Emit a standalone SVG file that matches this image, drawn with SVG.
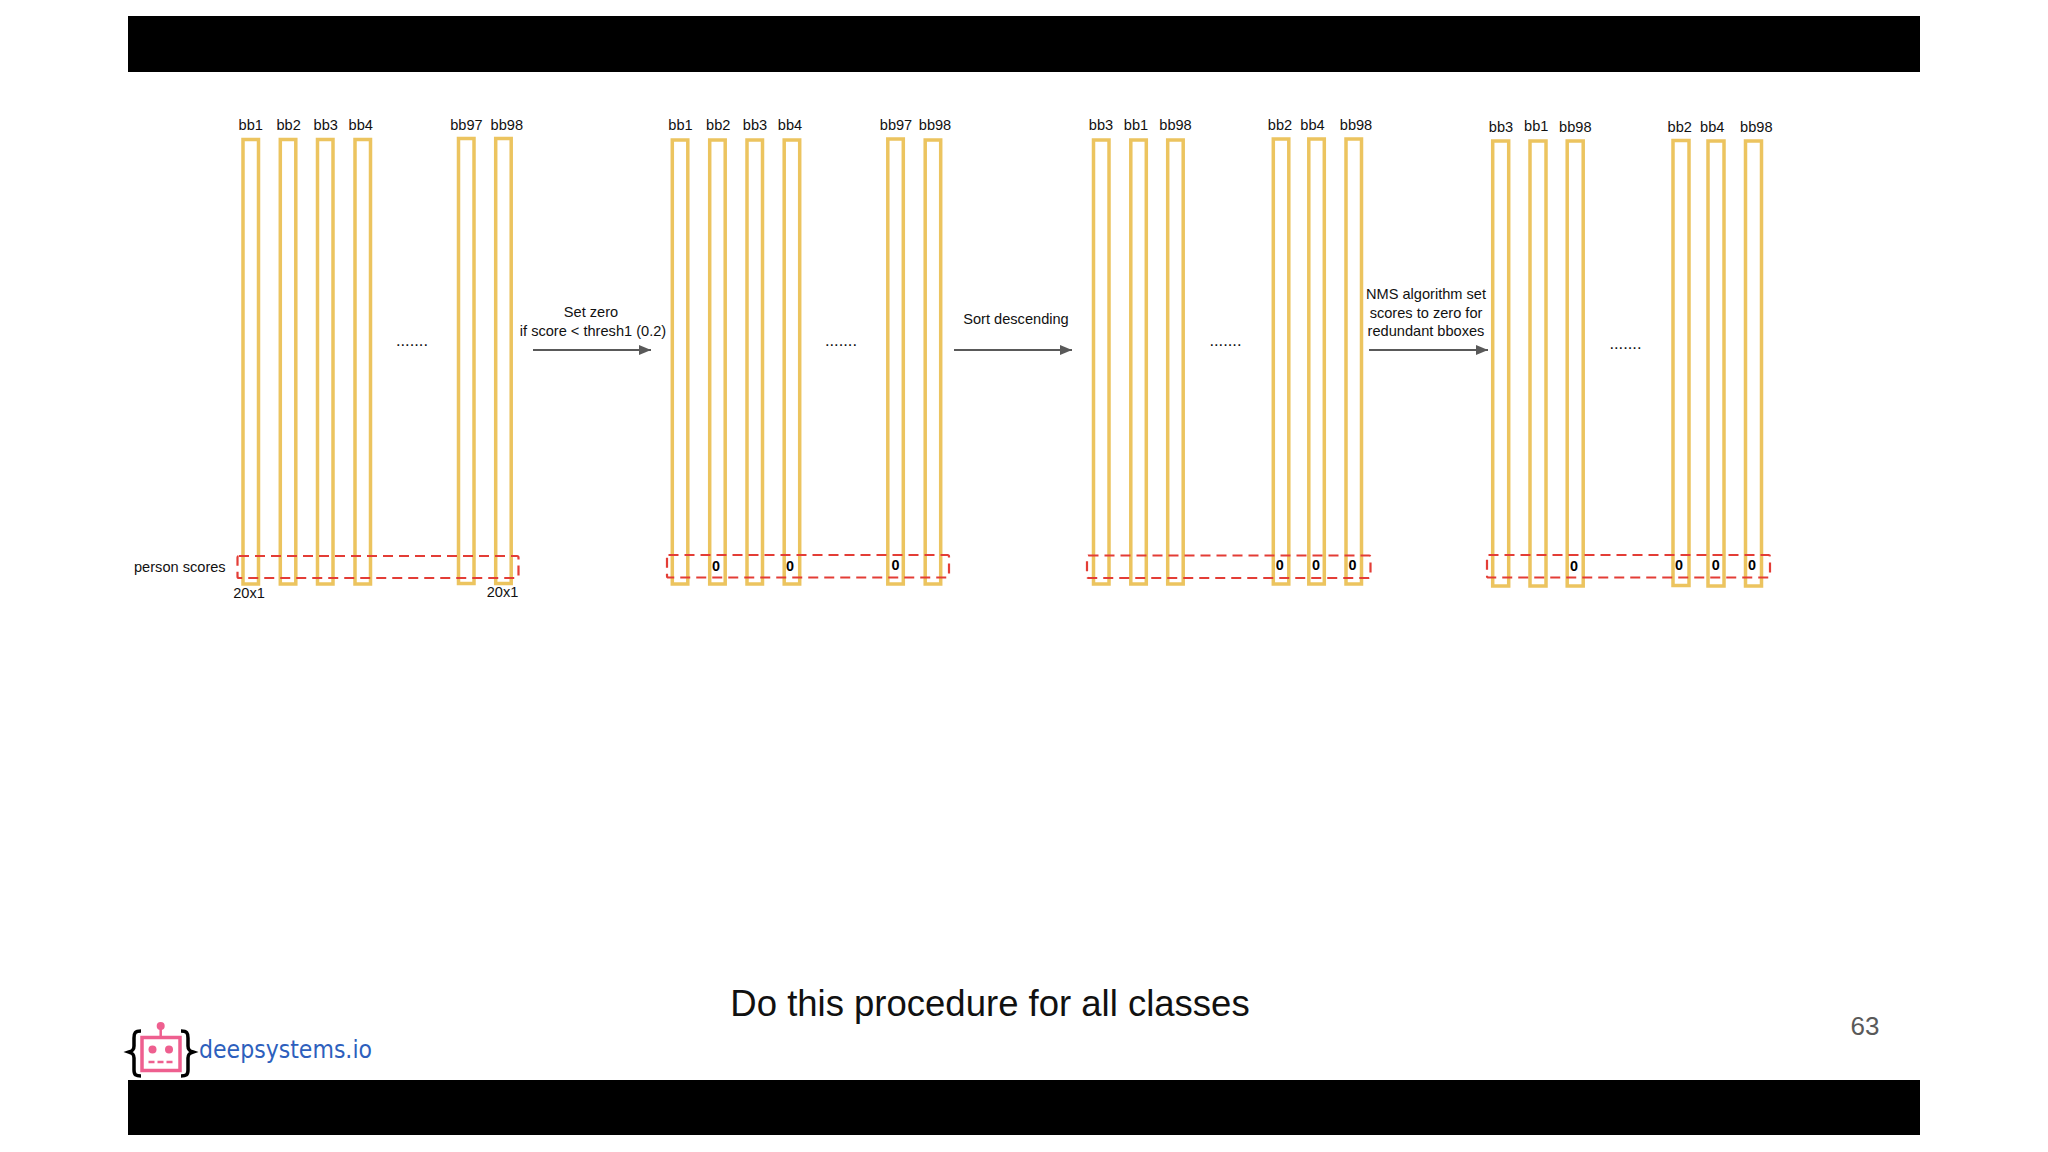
<svg xmlns="http://www.w3.org/2000/svg" width="2048" height="1152" viewBox="0 0 2048 1152">
<defs>
<style>
text{font-family:"Liberation Sans",Arial,sans-serif;fill:#111}
.bar{fill:none;stroke:#ecc45f;stroke-width:3.5}
.lab{font-size:14.6px;text-anchor:middle}
.note{font-size:14.6px;text-anchor:middle}
.zero{font-size:14.4px;font-weight:bold;text-anchor:middle;fill:#000}
.dots{font-size:16.5px;text-anchor:middle}
.red{fill:none;stroke:#e33d36;stroke-width:2.2;stroke-dasharray:10 6}
.arrow{stroke:#595959;stroke-width:1.8;fill:none;marker-end:url(#ah)}
</style>
<marker id="ah" markerUnits="userSpaceOnUse" markerWidth="12" markerHeight="10" refX="12" refY="5" orient="auto"><path d="M0 0L12 5L0 10Z" fill="#595959"/></marker>
</defs>
<rect width="2048" height="1152" fill="#fff"/>
<rect id="top-band" x="128" y="16" width="1792" height="56" fill="#000"/>
<rect id="bottom-band" x="128" y="1080" width="1792" height="55" fill="#000"/>

<g id="panel-1">
<g id="p1-bb1"><rect class="bar" x="243" y="139.5" width="15.5" height="444.5"/><text class="lab" x="250.7" y="130">bb1</text></g>
<g id="p1-bb2"><rect class="bar" x="280.3" y="139.5" width="15.5" height="444.5"/><text class="lab" x="288.6" y="130">bb2</text></g>
<g id="p1-bb3"><rect class="bar" x="317.5" y="139.5" width="15.5" height="444.5"/><text class="lab" x="325.7" y="130">bb3</text></g>
<g id="p1-bb4"><rect class="bar" x="355" y="139.5" width="15.5" height="444.5"/><text class="lab" x="360.7" y="130">bb4</text></g>
<g id="p1-bb97"><rect class="bar" x="458.5" y="138.5" width="15.5" height="445"/><text class="lab" x="466.4" y="130">bb97</text></g>
<g id="p1-bb98"><rect class="bar" x="495.7" y="138.5" width="15.5" height="445"/><text class="lab" x="506.8" y="130">bb98</text></g>
<text class="dots" x="412" y="346">.......</text>
<rect id="p1-scores" class="red" x="237.5" y="556" width="281" height="22" rx="1.5"/>
<text x="134" y="572" font-size="14.6">person scores</text>
<text class="lab" x="249" y="597.5">20x1</text>
<text class="lab" x="502.5" y="596.5">20x1</text>
</g>

<g id="panel-2">
<g id="p2-bb1"><rect class="bar" x="672.3" y="140" width="15.5" height="444"/><text class="lab" x="680.5" y="130">bb1</text></g>
<g id="p2-bb2"><rect class="bar" x="709.7" y="140" width="15.5" height="444"/><text class="lab" x="718.3" y="130">bb2</text><text class="zero" x="716" y="571">0</text></g>
<g id="p2-bb3"><rect class="bar" x="747" y="140" width="15.5" height="444"/><text class="lab" x="755" y="130">bb3</text></g>
<g id="p2-bb4"><rect class="bar" x="784.2" y="140" width="15.5" height="444"/><text class="lab" x="790" y="130">bb4</text><text class="zero" x="790" y="571">0</text></g>
<g id="p2-bb97"><rect class="bar" x="887.8" y="139" width="15.5" height="445"/><text class="lab" x="896" y="130">bb97</text><text class="zero" x="895.5" y="569.5">0</text></g>
<g id="p2-bb98"><rect class="bar" x="925.2" y="140" width="15.5" height="444"/><text class="lab" x="935" y="130">bb98</text></g>
<text class="dots" x="841" y="346">.......</text>
<rect id="p2-scores" class="red" x="667" y="555" width="282" height="22.5" rx="1.5"/>
</g>

<g id="panel-3">
<g id="p3-bb3"><rect class="bar" x="1093.5" y="140" width="15.5" height="444"/><text class="lab" x="1101" y="130">bb3</text></g>
<g id="p3-bb1"><rect class="bar" x="1130.8" y="140" width="15.5" height="444"/><text class="lab" x="1136" y="129.5">bb1</text></g>
<g id="p3-bb98a"><rect class="bar" x="1167.7" y="140" width="15.5" height="444"/><text class="lab" x="1175.5" y="130">bb98</text></g>
<g id="p3-bb2"><rect class="bar" x="1273.3" y="139" width="15.5" height="445"/><text class="lab" x="1280" y="130">bb2</text><text class="zero" x="1279.8" y="570">0</text></g>
<g id="p3-bb4"><rect class="bar" x="1308.8" y="139" width="15.5" height="445"/><text class="lab" x="1312.5" y="130">bb4</text><text class="zero" x="1316" y="570">0</text></g>
<g id="p3-bb98b"><rect class="bar" x="1346" y="139" width="15.5" height="445"/><text class="lab" x="1356" y="130">bb98</text><text class="zero" x="1352.6" y="570">0</text></g>
<text class="dots" x="1225.5" y="346">.......</text>
<rect id="p3-scores" class="red" x="1087" y="555.5" width="283.5" height="22.5" rx="1.5"/>
</g>

<g id="panel-4">
<g id="p4-bb3"><rect class="bar" x="1492.7" y="141" width="16" height="445"/><text class="lab" x="1501" y="132">bb3</text></g>
<g id="p4-bb1"><rect class="bar" x="1530" y="141" width="16" height="445"/><text class="lab" x="1536.3" y="131">bb1</text></g>
<g id="p4-bb98a"><rect class="bar" x="1567.2" y="141" width="16" height="445"/><text class="lab" x="1575.3" y="132">bb98</text><text class="zero" x="1574" y="571">0</text></g>
<g id="p4-bb2"><rect class="bar" x="1673" y="140.5" width="16" height="445"/><text class="lab" x="1679.7" y="132">bb2</text><text class="zero" x="1679" y="570">0</text></g>
<g id="p4-bb4"><rect class="bar" x="1708" y="141" width="16" height="445"/><text class="lab" x="1712.3" y="132">bb4</text><text class="zero" x="1715.7" y="570">0</text></g>
<g id="p4-bb98b"><rect class="bar" x="1745.5" y="141" width="16" height="445"/><text class="lab" x="1756.3" y="132">bb98</text><text class="zero" x="1752" y="570">0</text></g>
<text class="dots" x="1625.5" y="349">.......</text>
<rect id="p4-scores" class="red" x="1487" y="555" width="283" height="22.5" rx="1.5"/>
</g>

<g id="connectors">
<line class="arrow" x1="533" y1="350" x2="651" y2="350"/>
<line class="arrow" x1="954" y1="350" x2="1072" y2="350"/>
<line class="arrow" x1="1369" y1="350" x2="1488" y2="350"/>
</g>
<g id="arrow-labels">
<text class="note" x="591" y="317">Set zero</text>
<text class="note" x="593" y="336">if score &lt; thresh1 (0.2)</text>
<text class="note" x="1016" y="324">Sort descending</text>
<text class="note" x="1426" y="299">NMS algorithm set</text>
<text class="note" x="1426" y="318">scores to zero for</text>
<text class="note" x="1426" y="336">redundant bboxes</text>
</g>

<text id="caption" x="990" y="1016" font-size="36.5" text-anchor="middle">Do this procedure for all classes</text>
<text id="page" x="1865" y="1035" font-size="26" text-anchor="middle" style="fill:#595959">63</text>

<g id="logo">
<path d="M141 1031C135 1031 134 1033 134 1038V1046C134 1050 132 1051 129 1052C132 1053 134 1054 134 1058V1070C134 1075 136 1076 141 1076" fill="none" stroke="#000" stroke-width="3.5"/>
<path d="M181 1031C187 1031 188 1033 188 1038V1046C188 1050 190 1051 193 1052C190 1053 188 1054 188 1058V1070C188 1075 186 1076 181 1076" fill="none" stroke="#000" stroke-width="3.5"/>
<rect x="142" y="1037.5" width="38" height="33" fill="#fff" stroke="#ee5f8f" stroke-width="3.5"/>
<line x1="160.7" y1="1028" x2="160.7" y2="1036" stroke="#ee5f8f" stroke-width="2.5"/>
<circle cx="160.7" cy="1026" r="4" fill="#ee5f8f"/>
<circle cx="152.5" cy="1049.5" r="4" fill="#ee5f8f"/>
<circle cx="169" cy="1049.5" r="4" fill="#ee5f8f"/>
<line x1="148.5" y1="1062" x2="173" y2="1062" stroke="#ee5f8f" stroke-width="2.5" stroke-dasharray="6 3"/>
<text x="199" y="1058" font-size="24" textLength="173" lengthAdjust="spacingAndGlyphs" style="font-family:'DejaVu Sans',sans-serif;fill:#2d5fbd">deepsystems.io</text>
</g>
</svg>
